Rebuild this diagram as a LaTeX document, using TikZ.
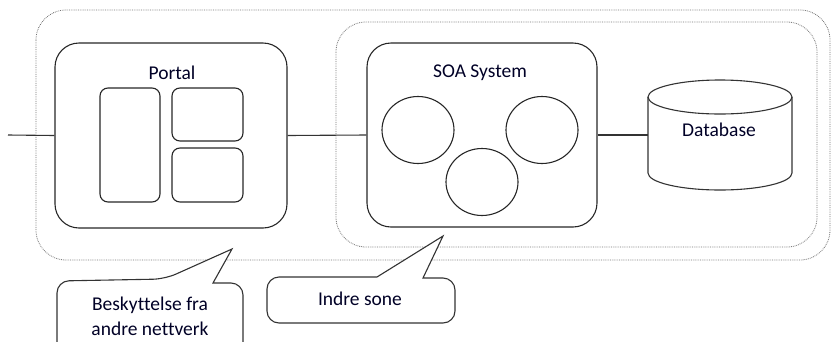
\documentclass[tikz,border=0pt]{standalone}
\usepackage{fontspec}
\setmainfont[Ligatures=NoCommon]{Carlito}
\usetikzlibrary{shapes.geometric}
\begin{document}
\begin{tikzpicture}[x=1pt,y=-1pt,
  zone/.style={draw=black!55,densely dotted,line width=0.8pt,rounded corners=30pt},
  bigbox/.style={draw=black!85,line width=1.1pt,rounded corners=24pt,minimum width=#1},
  subbox/.style={draw=black!85,line width=1.1pt,rounded corners=8pt,inner sep=0pt},
  svc/.style={draw=black!85,line width=1.1pt,ellipse,minimum width=72pt,minimum height=67pt,inner sep=0pt},
  conn/.style={draw=black!80,line width=1.1pt},
  callout/.style={draw=black!80,line width=1.1pt,fill=white},
  lbl/.style={font=\fontsize{19.5}{25}\selectfont,text=black!85!blue,align=center}
]
\useasboundingbox (0,0) rectangle (831,341);
% zones
\draw[zone] (36,10) rectangle (830,260);
\draw[zone] (336,22) rectangle (817,247);
% portal
\node[bigbox=232pt,minimum height=185pt,inner sep=0pt] (portal) at (171,135.5) {};
\node[lbl] (portallbl) at (172,73) {Portal};
\node[subbox,minimum width=60pt,minimum height=114pt] (p1) at (130,145) {};
\node[subbox,minimum width=71pt,minimum height=53pt] (p2) at (207.5,114.5) {};
\node[subbox,minimum width=71pt,minimum height=54pt] (p3) at (207.5,175) {};
% SOA
\node[bigbox=230pt,minimum height=184pt,inner sep=0pt] (soa) at (482,135) {};
\node[lbl] (soalbl) at (480,73) {SOA System};
\node[svc] (s1) at (418,130) {};
\node[svc] (s2) at (542,130) {};
\node[svc] (s3) at (482,182) {};
% database
\node[minimum width=144pt,minimum height=110pt,inner sep=0pt] (db) at (720,135) {};
\draw[conn] (648,97) -- (648,173) arc[start angle=180,end angle=360,x radius=72pt,y radius=17pt] -- (792,97);
\draw[conn] (720,97) ellipse[x radius=72pt,y radius=17pt];
\node[lbl] (dblbl) at (719,130) {Database};
% connectors
\coordinate (ext) at (8,135);
\draw[conn] (ext) -- (portal.west);
\draw[conn] (portal.east) -- (soa.west);
\draw[conn] (soa.east) -- (db.west);
% callouts
\draw[callout] (57,350) [rounded corners=12pt] -- (57,281) -- (165,279) [sharp corners] -- (232,249) -- (213,283) [rounded corners=12pt] -- (243,283) -- (243,350);
\node[lbl] (c1) at (150,316) {Beskyttelse fra\\andre nettverk};
\draw[callout] (377,277) -- (443,236) -- (423,278) [rounded corners=12pt] -- (455,278) -- (455,323) -- (267,323) -- (267,277) [sharp corners] -- (377,277) -- cycle;
\node[lbl] (c2) at (360,299) {Indre sone};
\end{tikzpicture}
\end{document}
